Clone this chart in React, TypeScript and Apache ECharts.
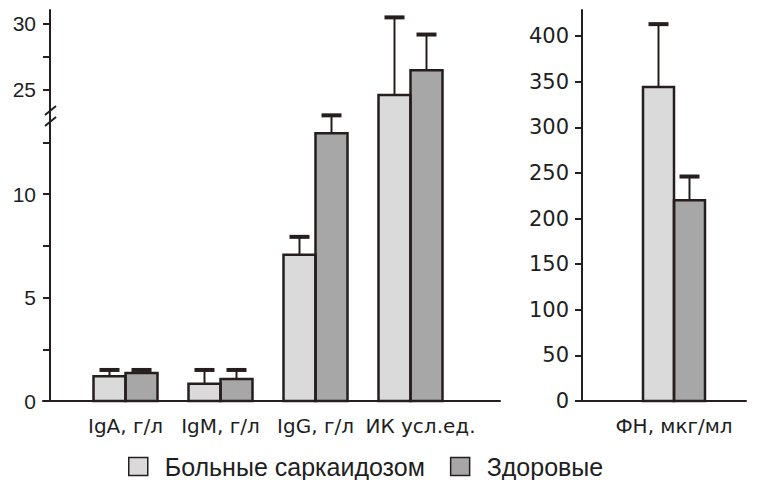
import React, { useEffect, useRef } from 'react';
import * as echarts from 'echarts';

const leftCategories = ['IgA, г/л', 'IgM, г/л', 'IgG, г/л', 'ИК усл.ед.'];
const rightCategories = ['ФН, мкг/мл'];
const seriesNames = ['Больные саркаидозом', 'Здоровые'];

const leftSick = [1.2, 0.83, 7.07, 24.62];
const leftSickErr = [1.5, 1.5, 7.93, 30.5];
const leftHealthy = [1.35, 1.06, 12.93, 26.5];
const leftHealthyErr = [1.5, 1.5, 13.8, 29.2];

const rightSick = [344];
const rightSickErr = [413];
const rightHealthy = [220];
const rightHealthyErr = [246];

const lowerTicks = [0, 2.5, 5, 7.5, 10, 12.5];
const lowerLabels = [0, 5, 10];
const upperTicks = [25, 27.5, 30];
const upperLabels = [25, 30];
const rightTicks = [0, 50, 100, 150, 200, 250, 300, 350, 400];

const LOWER_MAX = 13.72;
const UPPER_MIN = 22.95;
const UPPER_MAX = 31.06;
const RIGHT_MAX = 428.5;

const DARK = '#261e1e';
const SICK = '#dadada';
const HEALTHY = '#a7a7a7';
const TEXT = '#1e1e1e';
const XFONT = { color: TEXT, fontSize: 20, fontFamily: 'DejaVu Sans' };

function makeRender(side: number, lo: number, hi: number, barW: number) {
  return (params: any, api: any) => {
    const ci = api.value(0);
    const v = api.value(1);
    const e = api.value(2);
    const bottomPt = api.coord([ci, lo]);
    const cx = bottomPt[0];
    const yBottom = bottomPt[1];
    const x0 = side < 0 ? cx - barW : cx;
    const x1 = x0 + barW;
    const xm = (x0 + x1) / 2;
    const topClipped = v > hi;
    const yTop = api.coord([ci, Math.min(v, hi)])[1];
    const openBottom = lo > 0;
    const children: any[] = [];
    const stroke = { stroke: DARK, lineWidth: 2.5, fill: null };
    if (openBottom) {
      children.push({ type: 'polyline', shape: { points: [[x0, yBottom], [x0, yTop], [x1, yTop], [x1, yBottom]] }, style: stroke });
    } else if (topClipped) {
      children.push({ type: 'polyline', shape: { points: [[x0, yTop], [x0, yBottom], [x1, yBottom], [x1, yTop]] }, style: stroke });
    } else {
      children.push({ type: 'rect', shape: { x: x0, y: yTop, width: barW, height: yBottom - yTop }, style: stroke });
    }
    if (!topClipped) {
      const yErr = api.coord([ci, e])[1];
      children.push({ type: 'line', shape: { x1: xm, y1: yTop, x2: xm, y2: yErr }, style: { stroke: DARK, lineWidth: 2 } });
      children.push({ type: 'rect', shape: { x: xm - 10, y: yErr - 2, width: 20, height: 4 }, style: { fill: DARK } });
    }
    return { type: 'group', children };
  };
}

const toItems = (vals: number[], errs: number[]) => vals.map((v, i) => [i, v, errs[i]]);

const yAxisBase = (grid: number, min: number, max: number, offset: number, ticks: number[], labels: number[], font: string, size: number, margin: number) => ({
  type: 'value',
  gridIndex: grid,
  min,
  max,
  offset,
  position: 'left',
  axisLine: { show: true, lineStyle: { color: DARK, width: 2 } },
  axisTick: { show: true, length: 7, lineStyle: { color: DARK, width: 2 }, customValues: ticks },
  axisLabel: { show: labels.length > 0, customValues: labels, color: TEXT, fontSize: size, fontFamily: font, margin },
  splitLine: { show: false },
});

const option: any = {
  animation: false,
  backgroundColor: '#ffffff',
  grid: [
    { left: 78, top: 117, width: 380, height: 284 },
    { left: 78, top: 10, width: 380, height: 107 },
    { left: 604, top: 10, width: 140, height: 391 },
    { left: 43, top: 400, width: 457, height: 1 },
    { left: 576, top: 400, width: 170, height: 1 },
  ],
  xAxis: [
    {
      type: 'category', gridIndex: 0, data: leftCategories,
      axisLine: { show: false }, axisTick: { show: false },
      axisLabel: {
        interval: 0, ...XFONT, margin: 15,
        formatter: (val: string, idx: number) => (idx === leftCategories.length - 1 ? `{shift|${val}}` : `{n|${val}}`),
        rich: { n: { ...XFONT }, shift: { ...XFONT, padding: [0, 0, 0, 20] } },
      },
    },
    { type: 'category', gridIndex: 1, data: leftCategories, show: false },
    {
      type: 'category', gridIndex: 2, data: rightCategories,
      axisLine: { show: false }, axisTick: { show: false },
      axisLabel: { interval: 0, ...XFONT, margin: 15 },
    },
    {
      type: 'value', gridIndex: 3, min: 0, max: 1,
      axisLine: { show: true, onZero: false, lineStyle: { color: DARK, width: 2 } },
      axisTick: { show: false }, axisLabel: { show: false }, splitLine: { show: false },
    },
    {
      type: 'value', gridIndex: 4, min: 0, max: 1,
      axisLine: { show: true, onZero: false, lineStyle: { color: DARK, width: 2 } },
      axisTick: { show: false }, axisLabel: { show: false }, splitLine: { show: false },
    },
  ],
  yAxis: [
    yAxisBase(0, 0, LOWER_MAX, 28, lowerTicks, lowerLabels, 'Liberation Sans', 21, 14),
    yAxisBase(1, UPPER_MIN, UPPER_MAX, 28, upperTicks, upperLabels, 'Liberation Sans', 21, 14),
    yAxisBase(2, 0, RIGHT_MAX, 22, rightTicks, rightTicks, 'DejaVu Sans', 21, 13),
    { type: 'value', gridIndex: 3, show: false },
    { type: 'value', gridIndex: 4, show: false },
  ],
  legend: {
    data: [
      { name: seriesNames[0], icon: 'rect', itemStyle: { color: SICK, borderColor: DARK, borderWidth: 1.5 } },
      { name: seriesNames[1], icon: 'rect', itemStyle: { color: HEALTHY, borderColor: DARK, borderWidth: 1.5 } },
    ],
    left: 123,
    top: 449,
    itemWidth: 19,
    itemHeight: 18,
    itemGap: 25,
    selectedMode: false,
    textStyle: { fontSize: 25, fontFamily: 'Liberation Sans', color: TEXT, padding: [0, 0, 0, 12] },
  },
  graphic: [
    { type: 'line', shape: { x1: 45, y1: 115, x2: 56, y2: 106 }, style: { stroke: DARK, lineWidth: 2 }, z: 100 },
    { type: 'line', shape: { x1: 45, y1: 126, x2: 56, y2: 117 }, style: { stroke: DARK, lineWidth: 2 }, z: 100 },
  ],
  series: [
    { name: seriesNames[0], type: 'bar', xAxisIndex: 0, yAxisIndex: 0, data: leftSick, barWidth: 32, barGap: '0%', clip: true, itemStyle: { color: SICK } },
    { name: seriesNames[1], type: 'bar', xAxisIndex: 0, yAxisIndex: 0, data: leftHealthy, barWidth: 32, barGap: '0%', clip: true, itemStyle: { color: HEALTHY } },
    { name: seriesNames[0], type: 'bar', xAxisIndex: 1, yAxisIndex: 1, data: leftSick.map(v => (v > UPPER_MIN ? v : '-')), barWidth: 32, barGap: '0%', clip: true, itemStyle: { color: SICK } },
    { name: seriesNames[1], type: 'bar', xAxisIndex: 1, yAxisIndex: 1, data: leftHealthy.map(v => (v > UPPER_MIN ? v : '-')), barWidth: 32, barGap: '0%', clip: true, itemStyle: { color: HEALTHY } },
    { name: seriesNames[0], type: 'bar', xAxisIndex: 2, yAxisIndex: 2, data: rightSick, barWidth: 31, barGap: '0%', clip: true, itemStyle: { color: SICK } },
    { name: seriesNames[1], type: 'bar', xAxisIndex: 2, yAxisIndex: 2, data: rightHealthy, barWidth: 31, barGap: '0%', clip: true, itemStyle: { color: HEALTHY } },

    { name: 'outline-sick-lower', type: 'custom', xAxisIndex: 0, yAxisIndex: 0, z: 5, data: toItems(leftSick, leftSickErr), renderItem: makeRender(-1, 0, LOWER_MAX, 32) },
    { name: 'outline-healthy-lower', type: 'custom', xAxisIndex: 0, yAxisIndex: 0, z: 5, data: toItems(leftHealthy, leftHealthyErr), renderItem: makeRender(1, 0, LOWER_MAX, 32) },
    { name: 'outline-sick-upper', type: 'custom', xAxisIndex: 1, yAxisIndex: 1, z: 5, data: toItems(leftSick, leftSickErr).filter(d => d[1] > UPPER_MIN), renderItem: makeRender(-1, UPPER_MIN, UPPER_MAX, 32) },
    { name: 'outline-healthy-upper', type: 'custom', xAxisIndex: 1, yAxisIndex: 1, z: 5, data: toItems(leftHealthy, leftHealthyErr).filter(d => d[1] > UPPER_MIN), renderItem: makeRender(1, UPPER_MIN, UPPER_MAX, 32) },
    { name: 'outline-sick-right', type: 'custom', xAxisIndex: 2, yAxisIndex: 2, z: 5, data: toItems(rightSick, rightSickErr), renderItem: makeRender(-1, 0, RIGHT_MAX, 31) },
    { name: 'outline-healthy-right', type: 'custom', xAxisIndex: 2, yAxisIndex: 2, z: 5, data: toItems(rightHealthy, rightHealthyErr), renderItem: makeRender(1, 0, RIGHT_MAX, 31) },
  ],
};

export default function App() {
  const ref = useRef<HTMLDivElement>(null);
  useEffect(() => {
    const chart = echarts.init(ref.current!, null, { renderer: 'svg' });
    chart.setOption(option);
    return () => chart.dispose();
  }, []);
  return (
    <div
      ref={ref}
      style={{ position: 'fixed', left: 0, top: 0, width: 759, height: 480, background: '#fff' }}
    />
  );
}
